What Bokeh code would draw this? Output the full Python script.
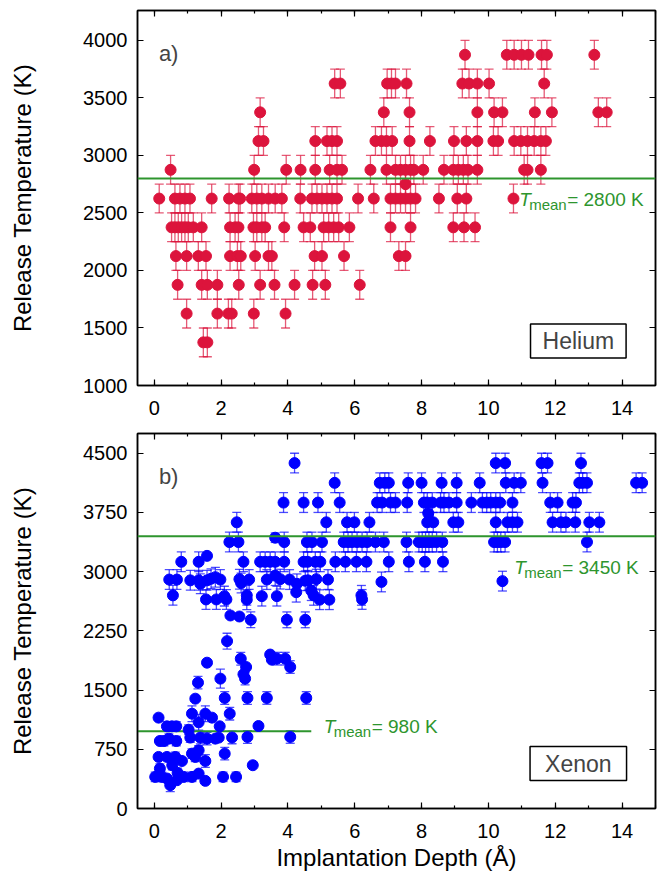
from bokeh.plotting import figure
from bokeh.layouts import column
from bokeh.models import (ColumnDataSource, Whisker, TeeHead, Span, Label,
                          LinearAxis, FixedTicker, Range1d)
from bokeh.embed import file_html
from bokeh.resources import INLINE

# ---------------- Helium: release temperature levels (K) and depths (Å) ----
he_levels = [1375, 1625, 1875, 2125, 2375, 2625, 2750, 2875, 3125, 3375, 3625, 3875]
he_1375 = [1.47, 1.59]
he_1625 = [0.97, 1.89, 2.22, 2.32, 2.98, 3.93]
he_1875 = [0.70, 1.42, 1.59, 1.89, 2.53, 3.17, 3.60, 4.20, 4.74, 5.12, 6.15]
he_2125 = [0.65, 0.97, 1.32, 1.55, 2.27, 2.49, 2.59, 3.02, 3.42, 3.52, 4.80, 5.02,
           5.68, 7.32, 7.52]
he_2375 = [0.52, 0.62, 0.72, 0.82, 0.92, 1.02, 1.17, 1.42, 2.27, 2.42, 2.52, 2.97,
           3.07, 3.22, 3.32, 3.89, 4.47, 4.67, 5.07, 5.22, 5.37, 5.52, 5.84, 7.07,
           7.67, 8.95, 9.27, 9.60]
he_2625 = [0.15, 0.62, 0.77, 0.92, 1.07, 1.72, 2.24, 2.52, 2.57, 2.92, 3.07, 3.22,
           3.42, 3.62, 3.82, 4.37, 4.72, 4.87, 5.02, 5.17, 5.32, 5.47, 6.10, 6.57,
           7.07, 7.22, 7.37, 7.52, 7.67, 7.82, 8.52, 9.07, 9.34, 10.75]
he_2750 = [7.52]
he_2875 = [0.49, 2.99, 3.95, 4.38, 4.82, 5.25, 5.47, 5.62, 6.47, 6.95, 7.22, 7.37,
           7.52, 7.67, 7.77, 8.05, 8.67, 8.95, 9.10, 9.25, 9.39, 9.67, 11.07, 11.17,
           11.57]
he_3125 = [3.12, 3.27, 4.82, 5.17, 5.32, 5.47, 6.62, 6.80, 6.95, 7.12, 7.64, 8.25,
           8.97, 9.34, 9.67, 10.15, 10.29, 10.77, 10.97, 11.17, 11.37, 11.57, 11.72]
he_3375 = [3.17, 6.87, 7.64, 9.67, 10.17, 10.42, 11.39, 11.90, 13.29, 13.54]
he_3625 = [5.40, 5.57, 6.97, 7.10, 7.22, 7.55, 9.22, 9.42, 9.67, 10.02, 11.67]
he_3875 = [9.30, 10.55, 10.77, 10.99, 11.20, 11.59, 11.75, 13.17]
he_depth_rows = [he_1375, he_1625, he_1875, he_2125, he_2375, he_2625, he_2750,
                 he_2875, he_3125, he_3375, he_3625, he_3875]
he_error = 125
he_mean = 2800

# ---------------- Xenon: quantised levels ----------------------------------
xe_levels = [4375, 4125, 3875, 3625, 3375, 3125]
xe_4375 = [4.20, 10.22, 10.50, 11.59, 11.77, 12.77]
xe_4125 = [5.40, 6.75, 6.90, 7.02, 7.60, 8.00, 8.60, 9.05, 9.74, 10.52, 10.77, 10.97,
           11.62, 12.72, 12.82, 12.95, 14.42, 14.60]
xe_3875 = [3.87, 4.47, 4.90, 5.55, 6.67, 6.82, 7.07, 7.22, 7.57, 8.07, 8.17, 8.32,
           8.57, 8.67, 8.82, 9.05, 9.49, 9.82, 9.95, 10.07, 10.22, 10.35, 10.72,
           11.85, 12.07, 12.52, 12.62]
xe_3625 = [2.47, 5.15, 5.77, 5.99, 6.44, 8.17, 8.35, 8.95, 9.10, 10.22, 10.57, 10.72,
           10.87, 11.92, 12.17, 12.32, 12.60, 13.02, 13.32]
xe_3375 = [2.25, 2.52, 3.89, 4.57, 4.72, 5.02, 5.67, 5.80, 5.92, 6.07, 6.22, 6.37,
           6.62, 6.87, 7.55, 7.92, 8.02, 8.12, 8.22, 8.32, 8.45, 8.62, 10.17, 10.27,
           10.37, 10.50, 12.95]
xe_3125 = [0.81, 1.33, 2.67, 3.17, 3.32, 3.47, 3.62, 3.89, 4.47, 4.59, 4.82, 4.97,
           5.42, 5.72, 6.05, 6.35, 7.02, 7.62, 8.10, 8.64]
xe_depth_rows = [xe_4375, xe_4125, xe_3875, xe_3625, xe_3375, xe_3125]
xe_level_error = 125

# ---------------- Xenon: remaining events (depth, temperature, error) ------
xe_misc_depth = [8.20, 3.62, 1.58, 3.62,
                 0.45, 0.68, 1.08, 1.33, 1.58, 1.70, 1.83, 1.98, 2.55, 2.84, 3.37,
                 3.77, 4.05, 4.52, 4.60, 4.85, 5.20, 6.80, 10.42,
                 1.38, 2.60, 4.27,
                 0.56, 2.77, 3.22, 3.67, 4.25, 4.70, 4.77, 6.20,
                 1.55, 1.86, 2.10, 2.16, 2.77, 4.95, 5.24, 6.22,
                 2.28, 2.55, 2.89, 3.97, 4.52, 2.18,
                 3.47, 3.52, 3.67, 3.92, 2.59, 1.58, 2.75, 4.07, 2.67, 2.72, 1.98,
                 1.31, 1.23, 2.11, 2.79, 3.37, 4.55, 2.26, 1.13, 1.53, 0.13, 1.73,
                 0.38, 0.53, 0.66, 1.96, 3.12, 1.03, 1.33, 2.33, 2.79, 4.07,
                 0.17, 0.29, 0.44, 0.66, 1.08, 1.38, 1.58, 1.83, 1.93,
                 0.13, 0.38, 0.63, 0.83, 1.13, 1.23, 1.33, 1.53, 2.11,
                 2.95, 0.54, 0.17, 0.70,
                 0.03, 0.23, 0.38, 0.48, 0.68, 0.88, 1.13, 1.33, 1.53, 2.06, 2.45]
xe_misc_temp = [3740, 3430, 3200, 2950,
                2900, 2900, 2890, 2890, 2890, 2910, 2930, 2900, 2905, 2900, 2900,
                2905, 2900, 2885, 2890, 2905, 2900, 2870, 2880,
                2846, 2856, 2846,
                2700, 2700, 2690, 2690, 2740, 2760, 2700, 2700,
                2648, 2648, 2690, 2648, 2645, 2645, 2645, 2648,
                2445, 2432, 2390, 2390, 2390, 2120,
                1950, 1885, 1898, 1898, 1897, 1847, 1792, 1792, 1700, 1645, 1645,
                1594, 1391, 1400, 1400, 1400, 1400, 1201, 1201, 1201, 1151, 1151,
                1041, 1041, 1041, 1041, 1045, 998, 1092, 900, 906, 906,
                855, 855, 885, 855, 898, 898, 885, 885, 898,
                653, 653, 653, 602, 695, 653, 737, 602, 695,
                548, 548, 506, 451,
                400, 400, 380, 295, 358, 400, 400, 442, 350, 400, 400]
xe_misc_err = [125, 60, 0, 125,
               125, 125, 125, 125, 125, 125, 125, 125, 125, 125, 125,
               125, 125, 125, 125, 125, 125, 125, 125,
               125, 125, 125,
               125, 125, 125, 125, 125, 125, 125, 125,
               125, 125, 125, 125, 125, 125, 125, 125,
               0, 0, 100, 100, 100, 100,
               0, 0, 80, 80, 80, 0, 0, 80, 0, 80, 120,
               80, 0, 80, 80, 80, 80, 80, 100, 100, 0, 0,
               60, 60, 60, 0, 0, 60, 100, 80, 80, 80,
               0, 60, 60, 60, 60, 80, 80, 0, 0,
               0, 0, 60, 0, 60, 60, 60, 80, 80,
               0, 60, 60, 60,
               60, 60, 0, 80, 0, 60, 60, 0, 0, 60, 60]
xe_mean_high = 3450
xe_mean_low = 980
xe_mean_low_depth = [-0.5, 4.7]

# ---------------- styling ----------------------------------------------------
FONT = "Liberation Sans"
HE_COLOR = "#dc143c"
XE_COLOR = "#0000ff"
MEAN_COLOR = "#2e952e"
TICK_FONT = "20px"
TITLE_FONT = "24px"


def flatten(levels, rows, err):
    xs, ys, es = [], [], []
    for lvl, row in zip(levels, rows):
        for d in row:
            xs.append(d)
            ys.append(lvl)
            es.append(err)
    return xs, ys, es


def style_panel(p, yticks):
    """Frame, inward ticks on all four sides; returns (bottom axis, left axis)."""
    p.background_fill_color = "white"
    p.border_fill_color = "white"
    p.outline_line_color = "black"
    p.outline_line_width = 1.5
    p.xgrid.visible = False
    p.ygrid.visible = False
    xt = FixedTicker(ticks=list(range(0, 15, 2)), minor_ticks=list(range(0, 16)))
    yt = FixedTicker(ticks=yticks, minor_ticks=[])
    xax = p.below[0]
    yax = p.left[0]
    for ax, tk in ((xax, xt), (yax, yt)):
        ax.ticker = tk
        ax.major_tick_in = 6
        ax.major_tick_out = 0
        ax.minor_tick_in = 3
        ax.minor_tick_out = 0
        ax.axis_line_color = "black"
        ax.axis_line_width = 1.5
        ax.major_tick_line_width = 1.2
        ax.minor_tick_line_width = 1.2
        ax.major_label_text_font = FONT
        ax.major_label_text_font_size = TICK_FONT
        ax.major_label_text_color = "black"
        ax.axis_label_text_font = FONT
        ax.axis_label_text_font_size = TITLE_FONT
        ax.axis_label_text_font_style = "normal"
        ax.axis_label_text_color = "black"
    xax.major_label_standoff = 15
    yax.major_label_standoff = 10
    # mirrored tick marks (no labels) on the top and right edges
    for loc, tk in (("above", xt), ("right", yt)):
        ax = LinearAxis(ticker=tk, major_label_text_font_size="0px",
                        major_label_text_color=None,
                        major_label_standoff=0, major_tick_in=6, major_tick_out=0,
                        minor_tick_in=3, minor_tick_out=0, axis_line_color="black",
                        axis_line_width=1.5, major_tick_line_width=1.2,
                        minor_tick_line_width=1.2)
        p.add_layout(ax, loc)
    return xax, yax


def add_points(p, xs, ys, es, color):
    src = ColumnDataSource(dict(x=xs, y=ys,
                                lo=[y - e for y, e in zip(ys, es)],
                                hi=[y + e for y, e in zip(ys, es)]))
    head = dict(size=9, line_color=color, line_alpha=0.7, line_width=1.3)
    p.add_layout(Whisker(base="x", lower="lo", upper="hi", source=src,
                         dimension="height", line_color=color, line_alpha=0.7,
                         line_width=1.3, upper_head=TeeHead(**head),
                         lower_head=TeeHead(**head)))
    p.scatter("x", "y", source=src, size=11, marker="circle",
              fill_color=color, line_color=color)


def add_mean_label(p, x, y, dy, number):
    common = dict(x=x, y=y, text_color=MEAN_COLOR, text_font=FONT,
                  text_baseline="alphabetic", text_align="left")
    p.add_layout(Label(text="T", text_font_style="italic", text_font_size="19px",
                       y_offset=dy, **common))
    p.add_layout(Label(text="mean", text_font_size="15px", x_offset=10,
                       y_offset=dy - 5, **common))
    p.add_layout(Label(text="= %d K" % number, text_font_size="19px", x_offset=48,
                       y_offset=dy, **common))


# ---------------- top panel: helium ------------------------------------------
p1 = figure(width=664, height=420, x_range=Range1d(-0.5, 15),
            y_range=Range1d(1000, 4260), output_backend="svg",
            toolbar_location=None, min_border_left=137, min_border_right=9,
            min_border_top=10, min_border_bottom=35)
x1, y1 = style_panel(p1, [1000, 1500, 2000, 2500, 3000, 3500, 4000])
y1.axis_label = "Release Temperature (K)"
y1.axis_label_standoff = 44

p1.add_layout(Span(location=he_mean, dimension="width", line_color=MEAN_COLOR,
                   line_width=2))
hx, hy, he = flatten(he_levels, he_depth_rows, he_error)
add_points(p1, hx, hy, he, HE_COLOR)
add_mean_label(p1, 10.92, he_mean, -21, he_mean)
p1.add_layout(Label(x=0.14, y=3884, text="a)", text_font=FONT, text_font_size="22px",
                    text_baseline="alphabetic"))
p1.add_layout(Label(x=12.69, y=1387, text="Helium", text_font=FONT,
                    text_font_size="23px", text_align="center",
                    text_baseline="middle", background_fill_color="white",
                    border_line_color="black", border_line_width=1.5,
                    padding=(12, 4)))

# ---------------- bottom panel: xenon ----------------------------------------
p2 = figure(width=664, height=464, x_range=Range1d(-0.5, 15),
            y_range=Range1d(0, 4750), output_backend="svg",
            toolbar_location=None, min_border_left=137, min_border_right=9,
            min_border_top=13, min_border_bottom=76)
x2, y2 = style_panel(p2, [0, 750, 1500, 2250, 3000, 3750, 4500])
y2.axis_label = "Release Temperature (K)"
y2.axis_label_standoff = 44
x2.axis_label = "Implantation Depth (Å)"
x2.axis_label_standoff = 3

p2.add_layout(Span(location=xe_mean_high, dimension="width", line_color=MEAN_COLOR,
                   line_width=2))
p2.line(xe_mean_low_depth, [xe_mean_low, xe_mean_low], line_color=MEAN_COLOR,
        line_width=2)
xx, xy, xerr = flatten(xe_levels, xe_depth_rows, xe_level_error)
xx += xe_misc_depth
xy += xe_misc_temp
xerr += xe_misc_err
add_points(p2, xx, xy, xerr, XE_COLOR)
add_mean_label(p2, 10.77, xe_mean_high, -31, xe_mean_high)
add_mean_label(p2, 5.07, xe_mean_low, 5, xe_mean_low)
p2.add_layout(Label(x=0.14, y=4204, text="b)", text_font=FONT, text_font_size="22px",
                    text_baseline="alphabetic"))
p2.add_layout(Label(x=12.69, y=569, text="Xenon", text_font=FONT,
                    text_font_size="23px", text_align="center",
                    text_baseline="middle", background_fill_color="white",
                    border_line_color="black", border_line_width=1.5,
                    padding=(15, 4)))

layout = column(p1, p2)
open("out.html", "w").write(file_html(layout, INLINE))
